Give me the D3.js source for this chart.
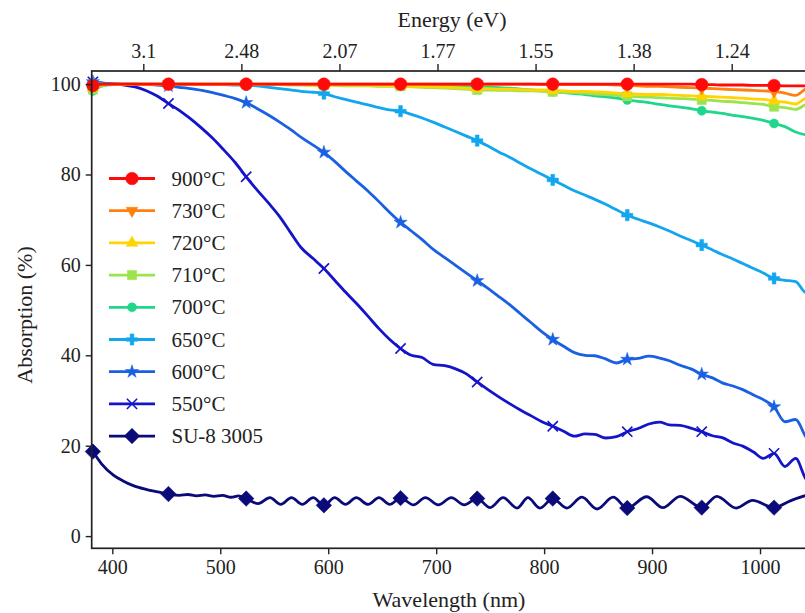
<!DOCTYPE html>
<html><head><meta charset="utf-8">
<script src="https://cdn.jsdelivr.net/npm/d3@7"></script>
<style>
body{margin:0;background:#fff}
svg{display:block}
svg text{font-family:"Liberation Serif","Times New Roman",Times,"DejaVu Serif",serif !important;fill:#222}
</style>
</head><body>
<svg id="chart" width="805" height="613"></svg>
<script>
// ---------- DATA ----------
const wavelengths = [382,391,401,411,421,431,442,452,462,472,483,493,503,514,524,534,545,555,565,575,586,596,606,616,626,637,647,657,667,677,687,697,708,718,728,738,748,758,768,778,788,798,808,818,828,838,847,857,867,877,887,897,907,916,926,936,946,956,965,975,984,994,1003,1013,1023,1033,1043,1050];
const markerWavelengths = [382,452,524,596,667,738,808,877,946,1013];

const v900 = [99.7,100,100,100,100,100,100,100, 100,100,100,100,100,100,100, 100,100,100,100,100,100,100, 100,100,100,100,100,100,100, 100,100,100,100,100,100,100, 100,100,100,100,100,100,100, 100,100,100,100,100,100,100, 100,100,100,100,100,100,99.9, 99.9,99.8,99.8,99.8,99.7,99.7,99.7, 99.6,99.6,99.6,99.6];
const v730 = [99.5,99.9,100,100,100,100,100,100, 100,100,100,100,100,100,100, 100,100,100,100,100,100,100, 100,100,100,100,100,100,100, 100,100,100,100,100,100,100, 100,100,100,100,100,99.9,99.9, 99.9,99.9,99.9,99.9,99.9,99.8,99.7, 99.6,99.5,99.5,99.4,99.3,99.2,99.1, 99.0,98.9,98.8,98.7,98.6,98.5,98.4, 98.0,97.5,99.0,99.2];
const v720 = [99.2,99.8,100,100,100,100,100,100, 100,100,100,100,100,100,100, 100,100,99.9,99.9,99.9,99.8,99.8, 99.8,99.8,99.7,99.7,99.7,99.6,99.6, 99.5,99.5,99.4,99.3,99.2,99.1,99.0, 99.0,98.9,98.9,98.8,98.7,98.7,98.6, 98.5,98.4,98.4,98.3,98.2,98.0,97.9, 97.8,97.7,97.7,97.6,97.5,97.4,97.3, 97.2,97.1,97.0,96.9,96.7,96.6,96.3, 96.0,95.6,97.0,97.3];
const v710 = [98.8,99.7,99.9,99.9,99.9,99.9,99.9,99.9, 99.9,99.9,99.9,99.9,99.9,99.9,99.9, 99.9,99.9,99.9,99.8,99.8,99.7,99.7, 99.7,99.6,99.6,99.6,99.5,99.5,99.5, 99.4,99.3,99.2,99.1,99.0,98.9,98.7, 98.7,98.6,98.6,98.5,98.5,98.4,98.3, 98.2,98.1,98.0,97.8,97.7,97.5,97.3, 97.2,97.1,97.0,96.9,96.8,96.7,96.5, 96.4,96.2,96.1,95.9,95.7,95.5,95.0, 94.8,94.4,95.5,95.8];
const v700 = [98.5,99.6,99.9,99.9,99.9,99.9,99.9,99.9, 99.9,99.9,99.9,99.9,99.9,99.9,99.9, 99.9,99.9,99.9,99.9,99.9,99.9,99.9, 99.9,99.9,99.9,99.8,99.8,99.8,99.8, 99.8,99.7,99.7,99.6,99.6,99.5,99.4, 99.3,99.2,99.1,98.9,98.7,98.5,98.3, 98.1,97.9,97.7,97.4,97.2,96.9,96.5, 96.2,95.9,95.5,95.2,94.9,94.6,94.1, 93.8,93.5,93.1,92.8,92.4,92.0,91.3, 90.6,89.4,88.8,89.6];
const v650 = [100.2,100.1,100,100,100,100,100,100, 100,100,99.9,99.9,99.9,99.8,99.8, 99.6,99.3,99.0,98.7,98.4,98.2,97.9, 97.2,96.6,96.0,95.4,94.8,94.3,94.0, 93.3,92.5,91.6,90.5,89.5,88.5,87.5, 86.3,85.0,83.8,82.5,81.2,80.0,78.8, 77.6,76.4,75.4,74.5,73.4,72.2,71.0, 70.1,69.3,68.4,67.5,66.4,65.4,64.4, 63.3,62.3,61.3,60.3,59.2,58.2,57.0, 56.6,56.3,53.8,54.3];
const v600 = [100.5,100.2,100.1,100.0,100.0,99.9,99.8,99.6, 99.3,99.0,98.6,98.1,97.5,96.8,95.9, 94.6,93.1,91.6,90.0,88.2,86.5,84.9, 82.9,80.7,78.6,76.3,74.0,71.6,69.4, 67.5,65.6,63.5,61.6,59.9,58.2,56.5, 54.8,53.0,51.2,49.2,47.2,45.2,43.5, 42.0,40.6,40.0,39.9,39.2,38.3,39.1, 39.3,39.8,39.4,38.8,37.8,37.0,35.8, 35.0,33.9,33.2,32.4,31.2,30.2,28.6, 25.3,25.8,21.8,20.8];
const v550 = [100.5,100.2,100.0,99.8,99.4,98.6,97.3,95.7, 94.2,92.4,90.2,88.0,85.5,82.6,79.5, 76.6,73.6,70.7,67.2,63.8,61.4,59.2, 56.6,54.0,51.5,48.6,45.9,43.5,41.5, 40.0,39.5,38.0,37.7,37.0,35.9,34.1, 32.4,30.8,29.3,27.9,26.6,25.3,24.3, 23.2,22.1,22.6,22.5,21.7,22.0,23.1, 23.8,24.8,25.2,24.6,24.5,23.9,23.1, 22.2,21.8,20.6,19.9,18.6,17.2,18.3, 15.4,17.2,12.5,11.8];

const su8Wavelengths = [382,390,401,410,420,432,442,452,462,470,478,486,494,502,510,517,524,535,546,556,566,576,586,596,606,616,626,637,647,657,667,679,690,702,714,726,738,750,762,775,785,796,808,821,835,849,864,877,895,910,926,946,960,978,993,1013,1028,1043,1050];
const su8Values      = [18.7,16.0,13.5,12.2,11.1,10.3,9.8,9.3,9.0,9.2,8.9,9.1,8.8,9.0,8.6,8.9,8.3,7.2,8.5,7.0,8.5,7.0,8.5,6.8,8.5,7.0,8.5,7.0,8.5,7.0,8.4,6.9,8.5,6.9,8.5,6.9,8.3,6.3,8.5,6.2,8.5,6.2,8.3,6.2,8.6,6.0,8.6,6.2,8.7,6.3,8.8,6.3,8.8,6.2,7.9,6.3,7.8,9.0,9.3];

const seriesNames = ["900°C","730°C","720°C","710°C","700°C","650°C","600°C","550°C","SU-8 3005"];
const bottomTicks = [400,500,600,700,800,900,1000];
const leftTicks = [0,20,40,60,80,100];
const topTickWavelengths = [400,500,600,700,800,900,1000];
const topTickLabels = ["3.1","2.48","2.07","1.77","1.55","1.38","1.24"];

// ---------- STYLE ----------
const styles = {
  "900°C":    {color:"#FF0A0A", sym:"circle",  size:125},
  "730°C":    {color:"#FF8010", sym:"tridown", size:60},
  "720°C":    {color:"#FFD400", sym:"triup",   size:60},
  "710°C":    {color:"#9CE44E", sym:"square",  size:85},
  "700°C":    {color:"#1ED68C", sym:"circle",  size:65},
  "650°C":    {color:"#12A6EE", sym:"cross",   size:70},
  "600°C":    {color:"#1A60E2", sym:"star",    size:55},
  "550°C":    {color:"#1414C8", sym:"x",       size:70},
  "SU-8 3005":{color:"#0A0A78", sym:"diamond", size:120}
};
const valuesByName = {"900°C":v900,"730°C":v730,"720°C":v720,"710°C":v710,"700°C":v700,"650°C":v650,"600°C":v600,"550°C":v550};

const series = seriesNames.map(n => {
  const wl = n === "SU-8 3005" ? su8Wavelengths : wavelengths;
  const vals = n === "SU-8 3005" ? su8Values : valuesByName[n];
  return {name:n, ...styles[n], points: wl.map((w,i)=>({w, v: vals[i]}))};
});

// ---------- LAYOUT ----------
const FONT = '"Liberation Serif","Times New Roman",Times,"DejaVu Serif",serif';
const svg = d3.select("#chart");
const L = 91.7, R = 814, T = 71, B = 548.3;
const x = d3.scaleLinear().domain([380.9, 1050]).range([L, R]);
const y = d3.scaleLinear().domain([-2.7, 102.9]).range([B, T]);
const xTop = d3.scaleLinear().domain([400, 1000]).range([143.3, 731.7]);

function symbolPath(sym, size){
  switch(sym){
    case "circle": return d3.symbol(d3.symbolCircle, size)();
    case "tridown": case "triup": return d3.symbol(d3.symbolTriangle, size)();
    case "square": return d3.symbol(d3.symbolSquare, size)();
    case "cross": return d3.symbol(d3.symbolCross, size)();
    case "star": return d3.symbol(d3.symbolStar, size)();
    case "x": return d3.symbol(d3.symbolTimes, size)();
    case "diamond": return d3.symbol(d3.symbolSquare, size)();
  }
}
function symbolRot(sym){ return sym==="tridown" ? 180 : (sym==="diamond" ? 45 : 0); }

function drawMarker(g, s, cx, cy){
  const p = g.append("path")
    .attr("d", symbolPath(s.sym, s.size))
    .attr("transform", `translate(${cx},${cy}) rotate(${symbolRot(s.sym)})`);
  if (s.sym === "x") p.attr("fill","none").attr("stroke", s.color).attr("stroke-width",1.6);
  else p.attr("fill", s.color).attr("stroke", s.color).attr("stroke-width",0.5);
}

svg.append("defs").append("clipPath").attr("id","clip")
  .append("rect").attr("x",L).attr("y",T).attr("width",R-L).attr("height",B-T);

const line = d3.line().x(d=>x(d.w)).y(d=>y(d.v)).curve(d3.curveMonotoneX);
const drawOrder = series.slice().reverse();
const plotG = svg.append("g");
drawOrder.forEach(s => {
  plotG.append("path").datum(s.points)
    .attr("d", line).attr("fill","none")
    .attr("stroke", s.color).attr("stroke-width", 2.8)
    .attr("stroke-linejoin","round")
    .attr("clip-path","url(#clip)");
});
drawOrder.forEach(s => {
  const g = plotG.append("g");
  s.points.filter(p => markerWavelengths.includes(p.w))
    .forEach(p => drawMarker(g, s, x(p.w), y(p.v)));
});

// axes
const axisFont = 20;
const gb = svg.append("g").attr("transform",`translate(0,${B})`)
  .call(d3.axisBottom(x).tickValues(bottomTicks).tickFormat(d3.format("d")).tickSize(6).tickPadding(6));
const gl = svg.append("g").attr("transform",`translate(${L},0)`)
  .call(d3.axisLeft(y).tickValues(leftTicks).tickFormat(d3.format("d")).tickSize(6).tickPadding(5));
const gt = svg.append("g").attr("transform",`translate(0,${T})`)
  .call(d3.axisTop(xTop).tickValues(topTickWavelengths)
    .tickFormat((d,i)=>topTickLabels[i]).tickSize(7).tickPadding(6));
[gb,gl,gt].forEach(g=>{
  g.attr("font-family", FONT);
  g.select(".domain").remove();
  g.selectAll(".tick line").attr("stroke","#222").attr("stroke-width",1.4);
  g.selectAll(".tick text").style("font-family", FONT)
    .attr("font-size",axisFont).attr("fill","#222");
});

// frame
svg.append("rect").attr("x",L).attr("y",T).attr("width",R-L).attr("height",B-T)
  .attr("fill","none").attr("stroke","#222").attr("stroke-width",1.7);

// titles
function txt(sel, size){ return sel.style("font-family", FONT).attr("font-size",size).attr("fill","#222"); }
txt(svg.append("text").attr("x",452).attr("y",27).attr("text-anchor","middle"),22).text("Energy (eV)");
txt(svg.append("text").attr("x",449).attr("y",607).attr("text-anchor","middle"),22).text("Wavelength (nm)");
txt(svg.append("text").attr("transform","translate(32,315) rotate(-90)")
  .attr("text-anchor","middle"),22).text("Absorption (%)");

// legend
const leg = svg.append("g");
series.forEach((s,i)=>{
  const cy = 178.5 + i*32.2;
  leg.append("line").attr("x1",109).attr("x2",155).attr("y1",cy).attr("y2",cy)
    .attr("stroke",s.color).attr("stroke-width",2.8);
  drawMarker(leg, s, 132, cy);
  txt(leg.append("text").attr("x",171.5).attr("y",cy+7),21).text(s.name);
});
</script>
</body></html>
